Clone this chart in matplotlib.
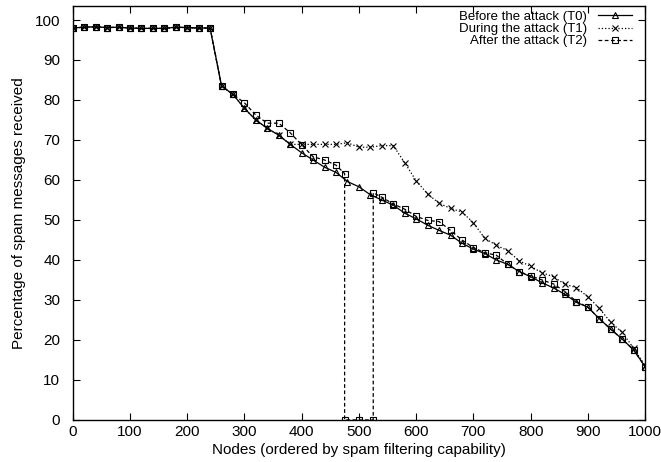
import matplotlib
matplotlib.use("Agg")
import matplotlib.pyplot as plt

plt.rcParams['font.family'] = ['Liberation Sans', 'DejaVu Sans']

# nodes sampled every 20
nodes = list(range(0, 1001, 20))

flat = [98.0, 98.2, 98.3, 98.1, 98.2, 98.0, 97.9, 97.9, 97.9, 98.2, 98.1, 98.0, 98.0]

before = flat + [83.5, 81.4, 77.9, 75.0, 72.9, 71.2, 68.9, 66.8, 65.0, 63.2,
                 61.9, 59.6, 58.3, 56.3, 55.0, 53.7, 51.7, 50.3, 48.7, 47.4,
                 46.2, 44.2, 42.7, 41.6, 40.0, 38.9, 37.1, 35.8, 34.3, 33.0,
                 31.4, 29.4, 28.2, 25.3, 22.7, 20.2, 17.5, 13.3]

during = flat + [83.5, 81.4, 77.9, 75.0, 72.9, 71.2, 68.9, 68.9, 68.9, 68.9,
                 68.9, 69.3, 68.2, 68.2, 68.6, 68.6, 64.3, 59.8, 56.5, 54.2,
                 52.9, 52.0, 49.3, 45.4, 43.7, 42.3, 39.8, 38.4, 36.8, 35.8,
                 33.9, 33.1, 30.8, 27.9, 24.4, 21.9, 17.9, 13.6]

# after the attack: three nodes drop to zero
after_x = list(range(0, 461, 20)) + [475, 475, 500, 525, 525] + list(range(540, 1001, 20))
after = flat + [83.5, 81.4, 79.3, 76.2, 74.2, 74.2, 71.8, 68.8, 65.8, 65.0,
                63.7, 61.6, 0.0, 0.0, 0.0, 56.8, 55.7, 54.0, 52.7, 50.9,
                49.9, 49.6, 47.4, 45.0, 43.1, 41.8, 41.2, 38.9, 37.1, 36.0,
                35.0, 34.0, 32.1, 29.6, 28.2, 25.3, 22.7, 20.2, 17.5, 13.3]

labels = ['Before the attack (T0)', 'During the attack (T1)', 'After the attack (T2)']

fig = plt.figure(figsize=(6.61, 4.62), dpi=100)
ax = fig.add_axes([0.110, 0.091, 0.866, 0.896])

ax.plot(nodes, before, color='black', lw=0.9, ls='-', marker='^', ms=4,
        mfc='none', mec='black', mew=0.8, label=labels[0])
ax.plot(nodes, during, color='black', lw=0.9, ls=':', marker='x', ms=4.5,
        mew=0.8, label=labels[1])
ax.plot(after_x, after, color='black', lw=0.9, ls='--', dashes=(3, 2), marker='s', ms=4.5,
        mfc='none', mec='black', mew=0.8, label=labels[2])

ax.set_xlim(0, 1000)
ax.set_ylim(0, 103.5)
ax.set_xticks(range(0, 1001, 100))
ax.set_yticks(range(0, 101, 10))
ax.tick_params(direction='in', top=True, right=True, labelsize=11, length=5, width=0.8)
ax.tick_params(axis='y', pad=9)
for s in ax.spines.values():
    s.set_linewidth(1.0)

ax.set_xlabel('Nodes (ordered by spam filtering capability)', fontsize=11, labelpad=3)
ax.set_ylabel('Percentage of spam messages received', fontsize=11, labelpad=6)

ax.legend(loc='upper right', bbox_to_anchor=(0.982, 0.995), frameon=False,
          markerfirst=False, fontsize=9.5, alignment='right', handlelength=2.6,
          labelspacing=0.0, handletextpad=0.8, borderaxespad=0, borderpad=0.2,
          numpoints=1)

fig.savefig('out.png', dpi=100)
